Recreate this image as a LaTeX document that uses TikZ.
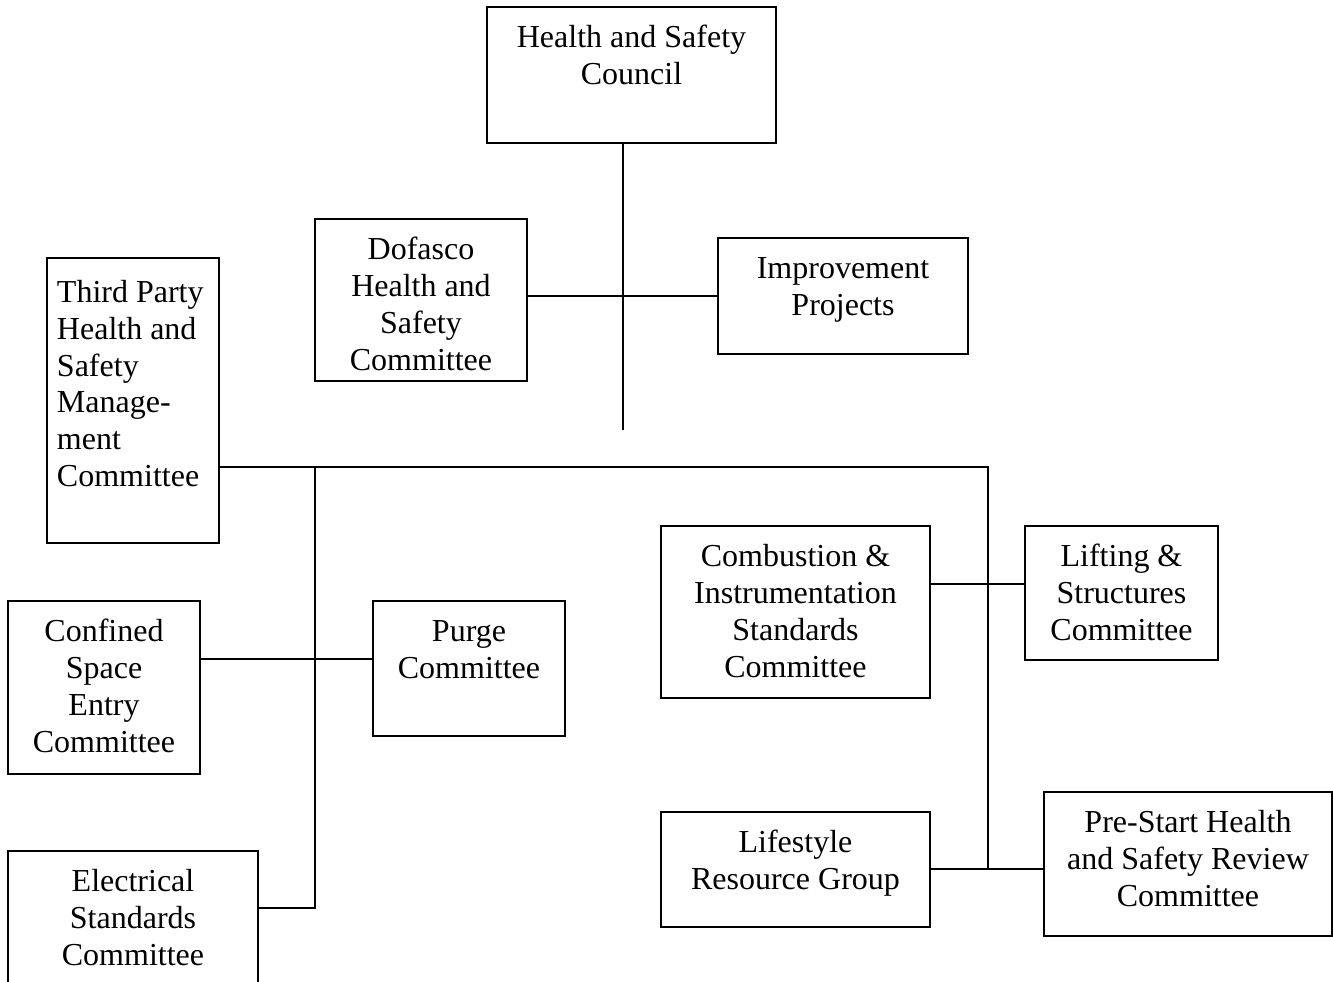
\documentclass[tikz,border=0pt]{standalone}
\usepackage{fontspec}
\setmainfont{Liberation Serif}
\usetikzlibrary{positioning}
\newlength{\px}
\setlength{\px}{0.375pt}
\newcommand{\firstline}{15.3pt}
\newcommand{\boxtext}[3]{\parbox[c][#2\px][t]{#1\px}{\centering\rule{0pt}{\firstline}#3}}

\begin{document}
\begin{tikzpicture}[x=0.375pt,y=-0.375pt,every node/.style={font=\fontsize{12}{13.8}\selectfont}]

%% styles for boxes and connecting lines
\tikzstyle{unit}=[draw,line width=0.75pt,inner sep=0pt,outer sep=0pt]
\tikzstyle{link}=[line width=0.75pt]

\useasboundingbox (0,0) rectangle (1333,982);

%% top of the chart
\node (council) [unit] at (631.5,75) {\boxtext{289}{136}{Health and Safety\\Council}};
\node (dofasco) [unit] at (421,300) {\boxtext{212}{162}{Dofasco\\Health and\\Safety\\Committee}};
\node (improve) [unit] at (843,296) {\boxtext{250}{116}{Improvement\\Projects}};

%% left side
\node (thirdparty) [unit] at (133,400.5) {\parbox[c][285\px][t]{172\px}{\raggedright\leftskip=10\px\rule{0pt}{16.7pt}Third Party\\Health and\\Safety\\Manage-\\ment\\Committee}};
\node (confined) [unit] at (104,687.5) {\boxtext{192}{173}{Confined\\Space\\Entry\\Committee}};
\node (purge) [unit] at (469,668.5) {\boxtext{192}{135}{Purge\\Committee}};
\node (electrical) [unit] at (133,931) {\boxtext{250}{160}{Electrical\\Standards\\Committee}};

%% right side
\node (combustion) [unit] at (795.5,612) {\boxtext{269}{172}{Combustion \&\\Instrumentation\\Standards\\Committee}};
\node (lifting) [unit] at (1121.5,593) {\boxtext{193}{134}{Lifting \&\\Structures\\Committee}};
\node (lifestyle) [unit] at (795.5,869.5) {\boxtext{269}{115}{Lifestyle\\Resource Group}};
\node (prestart) [unit] at (1188,864) {\boxtext{288}{144}{Pre-Start Health\\and Safety Review\\Committee}};

%% ends and corners of the lines
\coordinate (trunkend) at (623,430);
\coordinate (busleft) at (315,467);
\coordinate (busright) at (988,467);
\coordinate (busend) at (988,870);
\coordinate (leftend) at (315,908);
\coordinate (purgejoin) at (315,659);
\coordinate (liftjoin) at (988,584);

%% connecting lines
\draw[link] (trunkend |- council.south) -- (trunkend);
\draw[link] (dofasco.east |- improve.west) -- (improve.west);
\draw[link] (thirdparty.east |- busright) -- (busright) -- (busend);
\draw[link] (busleft) -- (leftend) -- (leftend -| electrical.east);
\draw[link] (purgejoin -| confined.east) -- (purgejoin -| purge.west);
\draw[link] (liftjoin -| combustion.east) -- (liftjoin -| lifting.west);
\draw[link] (lifestyle.east) -- (lifestyle.east -| prestart.west);

\end{tikzpicture}
\end{document}
